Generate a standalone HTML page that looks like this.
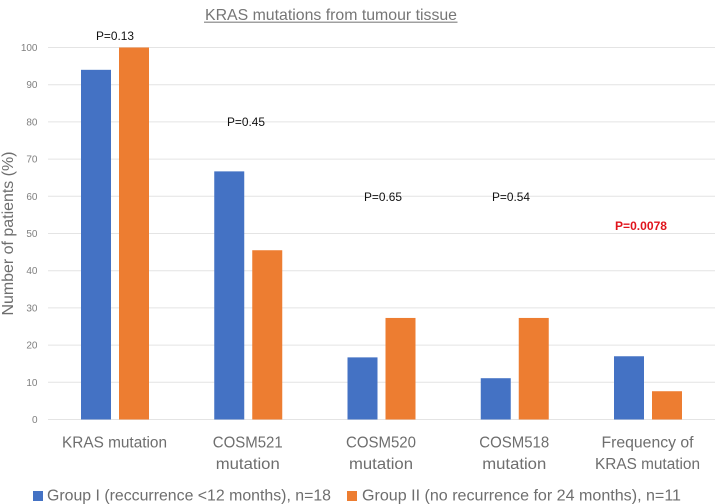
<!DOCTYPE html>
<html>
<head>
<meta charset="utf-8">
<style>
html,body{margin:0;padding:0;background:#fff;width:715px;height:504px;overflow:hidden}
svg{display:block;font-family:"Liberation Sans",sans-serif;filter:blur(0.35px)}
</style>
</head>
<body>
<svg id="chart" width="715" height="504" viewBox="0 0 715 504">
<text x="205" y="20" font-size="16" fill="#767676" textLength="252" lengthAdjust="spacingAndGlyphs">KRAS mutations from tumour tissue</text>
<rect x="204" y="21.500" width="253.500" height="1.500" fill="#a0a0a0"/>
<text transform="translate(13,233.5) rotate(-90)" text-anchor="middle" font-size="16" fill="#6e6e6e" textLength="164" lengthAdjust="spacingAndGlyphs">Number of patients (%)</text>
<g id="grid"></g>
<g id="yticks"></g>
<g id="bars"></g>
<g id="xlabels"></g>
<g font-size="12" fill="#111">
<text x="96" y="40" textLength="38" lengthAdjust="spacingAndGlyphs">P=0.13</text>
<text x="227" y="126" textLength="38" lengthAdjust="spacingAndGlyphs">P=0.45</text>
<text x="364" y="201" textLength="38" lengthAdjust="spacingAndGlyphs">P=0.65</text>
<text x="492" y="201" textLength="38" lengthAdjust="spacingAndGlyphs">P=0.54</text>
<text x="615" y="230" textLength="52" lengthAdjust="spacingAndGlyphs" font-weight="bold" fill="#e0141c">P=0.0078</text>
</g>
<g>
<rect x="33" y="491" width="10" height="10" fill="#4472c4"/>
<text x="47" y="500.500" font-size="15.500" fill="#6e6e6e" textLength="284" lengthAdjust="spacingAndGlyphs">Group I (reccurrence &lt;12 months), n=18</text>
<rect x="347" y="491" width="10" height="10" fill="#ed7d31"/>
<text x="362" y="500.500" font-size="15.500" fill="#6e6e6e" textLength="319" lengthAdjust="spacingAndGlyphs">Group II (no recurrence for 24 months), n=11</text>
</g>
</svg>
<script>
const categories = [["KRAS mutation"], ["COSM521", "mutation"], ["COSM520", "mutation"], ["COSM518", "mutation"], ["Frequency of", "KRAS mutation"]];
const groupOne = [94, 66.7, 16.7, 11.1, 17];
const groupTwo = [100, 45.5, 27.3, 27.3, 7.6];
const yTicks = [0, 10, 20, 30, 40, 50, 60, 70, 80, 90, 100];

const NS = "http://www.w3.org/2000/svg";
function yScale(v) { return 419.5 - v * 3.72; }
function groupLeft(i) { return 81 + i * 133.25; }
function labelWidth(s) {
  if (s === "KRAS mutation") return 105;
  if (s === "mutation") return 64;
  if (s === "Frequency of") return 92;
  return 70;
}
function make(tag, attrs, parent, text) {
  const el = document.createElementNS(NS, tag);
  for (const k in attrs) el.setAttribute(k, attrs[k]);
  if (text !== undefined) el.textContent = text;
  parent.appendChild(el);
  return el;
}
const grid = document.getElementById("grid");
const yt = document.getElementById("yticks");
const bars = document.getElementById("bars");
const xl = document.getElementById("xlabels");

yTicks.forEach(function (t) {
  const line = make("line", {x1: 48, x2: 715, y1: yScale(t), y2: yScale(t), stroke: "#e4e4e4", "stroke-width": 1}, grid);
  
  
  const label = make("text", {x: 37.500, y: yScale(t) + 3.500, "text-anchor": "end", "font-size": 10, fill: "#7f7f7f"}, yt, t);
  
  
});

categories.forEach(function (lines, i) {
  const left = groupLeft(i);
  const a = make("rect", {x: left, y: yScale(groupOne[i]), width: 30, height: 419.5 - yScale(groupOne[i]), fill: "#4472c4"}, bars);
  
  
  const b = make("rect", {x: left + 38, y: yScale(groupTwo[i]), width: 30, height: 419.5 - yScale(groupTwo[i]), fill: "#ed7d31"}, bars);
  
  
  lines.forEach(function (s, j) {
    const c = make("text", {x: left + 33.500, y: 447.500 + j * 21.500, "text-anchor": "middle", "font-size": 15.500, fill: "#6e6e6e", textLength: labelWidth(s), lengthAdjust: "spacingAndGlyphs"}, xl, s);
    
    
  });
});
</script>
</body>
</html>
